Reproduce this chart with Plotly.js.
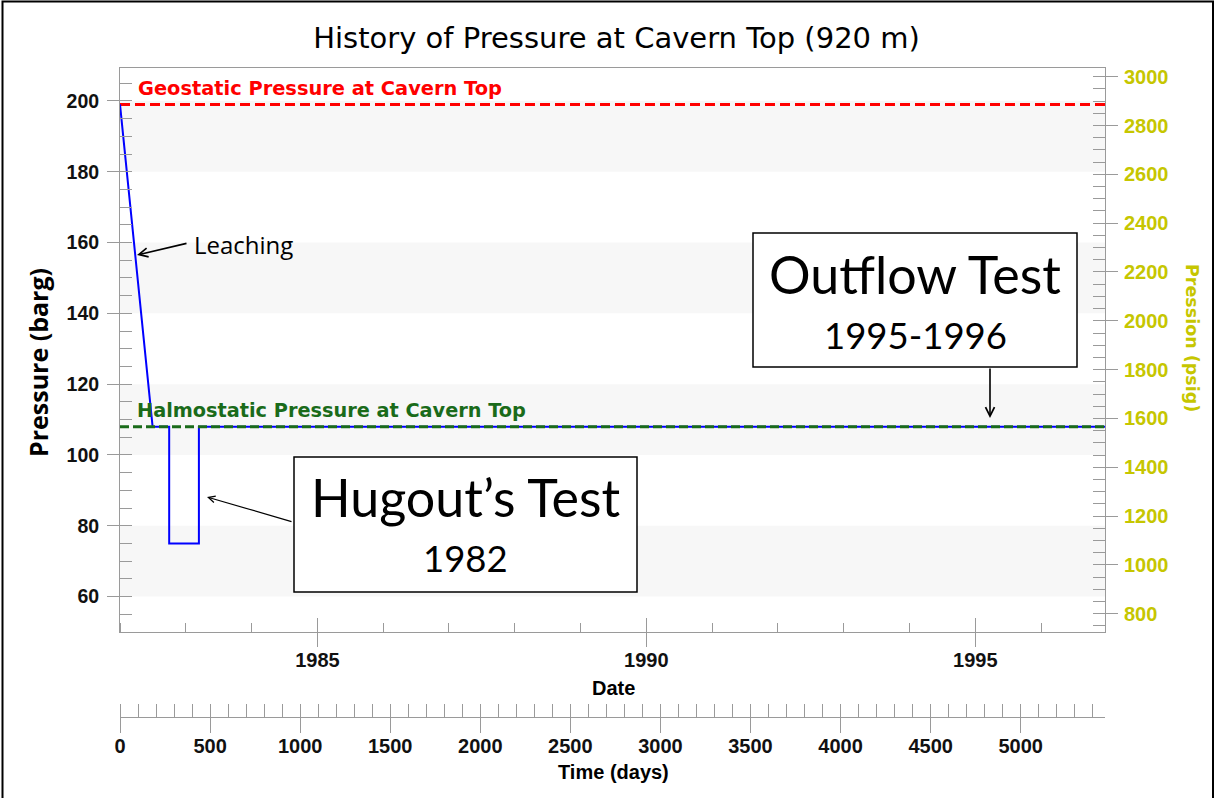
<!DOCTYPE html>
<html>
<head>
<meta charset="utf-8">
<script src="https://cdn.plot.ly/plotly-3.0.1.min.js"></script>
<style>html,body{margin:0;padding:0;background:#fff;}#chart{width:1216px;height:798px;}</style>
</head>
<body>
<div id="chart"></div>
<script>
// ---- data ----
const pressureDates = ["1982-01-01", "1982-07-01", "1982-10-01", "1982-10-01", "1983-03-15", "1983-03-15", "1996-12-21"];
const pressureBarg  = [199, 108, 108, 75, 75, 108, 108];
const dateRange = ["1982-01-01", "1996-12-21"];
const daysRange = [0, 5468];
const geostaticBarg = 199;
const halmostaticBarg = 108;
const bargRange = [50, 209.3];
const bandRanges = [[60, 80], [100, 120], [140, 160], [180, 200]];
const BAR_TO_PSI = 14.5038;
const psiRange = bargRange.map(v => v * BAR_TO_PSI);

const GRAY = "#9a9a9a";
const YEL = "#c6c600";
const ARIAL = "Liberation Sans, Arial, sans-serif";
const WIDE = "DejaVu Sans, Verdana, sans-serif";
const tickFont = {family: ARIAL, size: 20, color: "#111", weight: "bold"};

const traces = [
  {x: dateRange, y: [geostaticBarg, geostaticBarg], xaxis: "x", yaxis: "y", mode: "lines",
   line: {color: "#ff0000", width: 3, dash: "10px,5px"}, hoverinfo: "skip", showlegend: false},
  {x: pressureDates, y: pressureBarg, xaxis: "x", yaxis: "y", mode: "lines",
   line: {color: "#0000ff", width: 2}, hoverinfo: "skip", showlegend: false},
  {x: dateRange, y: [halmostaticBarg, halmostaticBarg], xaxis: "x", yaxis: "y", mode: "lines",
   line: {color: "#1a6b1a", width: 3, dash: "9px,4px"}, hoverinfo: "skip", showlegend: false},
  // axis carriers (no visible marks)
  {x: [dateRange[0]], y: [null], xaxis: "x", yaxis: "y2", mode: "lines", hoverinfo: "skip", showlegend: false},
  {x: [dateRange[0]], y: [null], xaxis: "x", yaxis: "y3", mode: "lines", hoverinfo: "skip", showlegend: false},
  {x: [dateRange[0]], y: [null], xaxis: "x", yaxis: "y4", mode: "lines", hoverinfo: "skip", showlegend: false},
  {x: [daysRange[0]], y: [null], xaxis: "x2", yaxis: "y", mode: "lines", hoverinfo: "skip", showlegend: false},
  {x: [dateRange[0]], y: [null], xaxis: "x3", yaxis: "y", mode: "lines", hoverinfo: "skip", showlegend: false},
  {x: [daysRange[0]], y: [null], xaxis: "x4", yaxis: "y", mode: "lines", hoverinfo: "skip", showlegend: false}
];

// paper coordinate helpers (plot area: x 120..1105 px, paper y 68..717 px)
const px = v => (v - 120) / 985;
const py = v => (717 - v) / 649;

const shapes = bandRanges.map(b => ({
  type: "rect", xref: "paper", yref: "y", x0: 0, x1: 1, y0: b[0], y1: b[1],
  fillcolor: "#f7f7f7", line: {width: 0}, layer: "below"
}));
// outer frame
shapes.push({type: "rect", xref: "paper", yref: "paper", x0: px(2.5), x1: px(1213), y0: py(830), y1: py(1.5),
  line: {color: "#000", width: 2}, fillcolor: "rgba(0,0,0,0)"});
// callout boxes
shapes.push({type: "rect", xref: "paper", yref: "paper", x0: px(753), x1: px(1077), y0: py(367), y1: py(233),
  line: {color: "#000", width: 1.5}, fillcolor: "#fff", layer: "above"});
shapes.push({type: "rect", xref: "paper", yref: "paper", x0: px(294), x1: px(637), y0: py(592), y1: py(457),
  line: {color: "#000", width: 1.5}, fillcolor: "#fff", layer: "above"});

const boxFont = "Lato, Calibri, sans-serif";
const annotations = [
  {xref: "paper", yref: "y", x: px(136), y: 203.4, xanchor: "left", yanchor: "middle", showarrow: false,
   text: "Geostatic Pressure at Cavern Top", font: {family: WIDE, size: 19.4, color: "#ff0000", weight: "bold"}},
  {xref: "paper", yref: "y", x: px(135), y: 112.7, xanchor: "left", yanchor: "middle", showarrow: false,
   text: "Halmostatic Pressure at Cavern Top", font: {family: WIDE, size: 19.3, color: "#1a6b1a", weight: "bold"}},
  {xref: "paper", yref: "paper", x: px(192), y: py(244), xanchor: "left", yanchor: "middle", showarrow: false,
   text: "Leaching", font: {family: "Open Sans, sans-serif", size: 24, color: "#000"}},
  {xref: "paper", yref: "paper", x: px(137), y: py(255), text: "", showarrow: true, ax: 51, ay: -12,
   arrowhead: 5, arrowsize: 1.1, arrowwidth: 1.6, arrowcolor: "#000"},
  {xref: "paper", yref: "paper", x: px(915), y: py(274), xanchor: "center", yanchor: "middle", showarrow: false,
   text: "Outflow Test", font: {family: boxFont, size: 52, color: "#000"}},
  {xref: "paper", yref: "paper", x: px(915), y: py(335), xanchor: "center", yanchor: "middle", showarrow: false,
   text: "1995-1996", font: {family: boxFont, size: 36.5, color: "#000"}},
  {xref: "paper", yref: "paper", x: px(990), y: py(418), text: "", showarrow: true, ax: 0, ay: -51,
   arrowhead: 5, arrowsize: 1.1, arrowwidth: 1.6, arrowcolor: "#000"},
  {xref: "paper", yref: "paper", x: px(465.5), y: py(497), xanchor: "center", yanchor: "middle", showarrow: false,
   text: "Hugout’s Test", font: {family: boxFont, size: 52, color: "#000"}},
  {xref: "paper", yref: "paper", x: px(465.5), y: py(558), xanchor: "center", yanchor: "middle", showarrow: false,
   text: "1982", font: {family: boxFont, size: 36.5, color: "#000"}},
  {xref: "paper", yref: "paper", x: px(207), y: py(497), text: "", showarrow: true, ax: 86, ay: 25,
   arrowhead: 5, arrowsize: 1.1, arrowwidth: 1.2, arrowcolor: "#000"},
  // axis titles
  {xref: "paper", yref: "paper", x: px(38), y: py(363), textangle: -90, showarrow: false, xanchor: "center", yanchor: "middle",
   text: "Pressure (barg)", font: {family: "Open Sans, sans-serif", size: 25, color: "#000", weight: "bold"}},
  {xref: "paper", yref: "paper", x: px(1192), y: py(338), textangle: 90, showarrow: false, xanchor: "center", yanchor: "middle",
   text: "Pression (psig)", font: {family: WIDE, size: 17.5, color: YEL, weight: "bold"}},
  {xref: "paper", yref: "paper", x: px(613), y: py(688), showarrow: false, xanchor: "center", yanchor: "middle",
   text: "Date", font: {family: ARIAL, size: 20, color: "#000", weight: "bold"}},
  {xref: "paper", yref: "paper", x: px(613), y: py(772), showarrow: false, xanchor: "center", yanchor: "middle",
   text: "Time (days)", font: {family: ARIAL, size: 20, color: "#000", weight: "bold"}}
];

const layout = {
  width: 1216, height: 798,
  margin: {l: 120, r: 111, t: 68, b: 81, pad: 0},
  paper_bgcolor: "#fff", plot_bgcolor: "rgba(0,0,0,0)",
  showlegend: false, hovermode: false,
  title: {text: "History of Pressure at Cavern Top (920 m)", xref: "container", yref: "container",
          x: 0.507, y: 1 - 38 / 798, xanchor: "center", yanchor: "middle",
          font: {family: WIDE, size: 29, color: "#000"}},
  xaxis: {type: "date", range: dateRange, anchor: "y", showgrid: false, zeroline: false,
          showline: true, linecolor: GRAY, linewidth: 1, mirror: true,
          tick0: "1985-01-01", dtick: "M60", tickformat: "%Y", ticks: "outside", ticklen: 14, tickcolor: GRAY,
          ticklabelstandoff: -4, tickfont: tickFont,
          minor: {dtick: "M12", tick0: "1982-01-01", ticks: "inside", ticklen: 9, tickcolor: GRAY, showgrid: false}},
  xaxis3: {type: "date", range: dateRange, overlaying: "x", anchor: "y", showgrid: false, zeroline: false, showline: false,
           tick0: "1985-01-01", dtick: "M60", ticks: "inside", ticklen: 14, tickcolor: GRAY, showticklabels: false},
  xaxis2: {type: "linear", range: daysRange, overlaying: "x", anchor: "free", position: 0, side: "bottom",
           showgrid: false, zeroline: false, showline: true, linecolor: GRAY, linewidth: 1,
           tick0: 0, dtick: 500, ticks: "outside", ticklen: 15, tickcolor: GRAY, ticklabelstandoff: -4, tickfont: tickFont,
           minor: {dtick: 100, ticks: "inside", ticklen: 13, tickcolor: GRAY, showgrid: false}},
  xaxis4: {type: "linear", range: daysRange, overlaying: "x", anchor: "free", position: 0, side: "bottom",
           showgrid: false, zeroline: false, showline: false,
           tick0: 0, dtick: 500, ticks: "inside", ticklen: 13, tickcolor: GRAY, showticklabels: false},
  yaxis: {range: bargRange, domain: [py(632), 1], anchor: "x", showgrid: false, zeroline: false,
          showline: true, linecolor: GRAY, linewidth: 1,
          tick0: 0, dtick: 20, ticks: "outside", ticklen: 12, tickcolor: GRAY, ticklabelstandoff: 4,
          tickfont: {family: ARIAL, size: 19.5, color: "#111", weight: "bold"},
          minor: {dtick: 5, ticks: "inside", ticklen: 12, tickcolor: GRAY, showgrid: false}},
  yaxis3: {range: bargRange, overlaying: "y", side: "left", anchor: "x", showgrid: false, zeroline: false, showline: false,
           tick0: 0, dtick: 20, ticks: "inside", ticklen: 12, tickcolor: GRAY, showticklabels: false},
  yaxis2: {range: psiRange, overlaying: "y", side: "right", anchor: "x", showgrid: false, zeroline: false,
           showline: true, linecolor: GRAY, linewidth: 1,
           tick0: 0, dtick: 200, ticks: "outside", ticklen: 12, tickcolor: GRAY, ticklabelstandoff: 2,
           tickfont: {family: ARIAL, size: 20, color: YEL, weight: "bold"},
           minor: {dtick: 50, ticks: "inside", ticklen: 12, tickcolor: GRAY, showgrid: false}},
  yaxis4: {range: psiRange, overlaying: "y", side: "right", anchor: "x", showgrid: false, zeroline: false, showline: false,
           tick0: 0, dtick: 200, ticks: "inside", ticklen: 12, tickcolor: GRAY, showticklabels: false},
  shapes: shapes,
  annotations: annotations
};

Plotly.newPlot("chart", traces, layout, {staticPlot: true, displayModeBar: false});
</script>
</body>
</html>
